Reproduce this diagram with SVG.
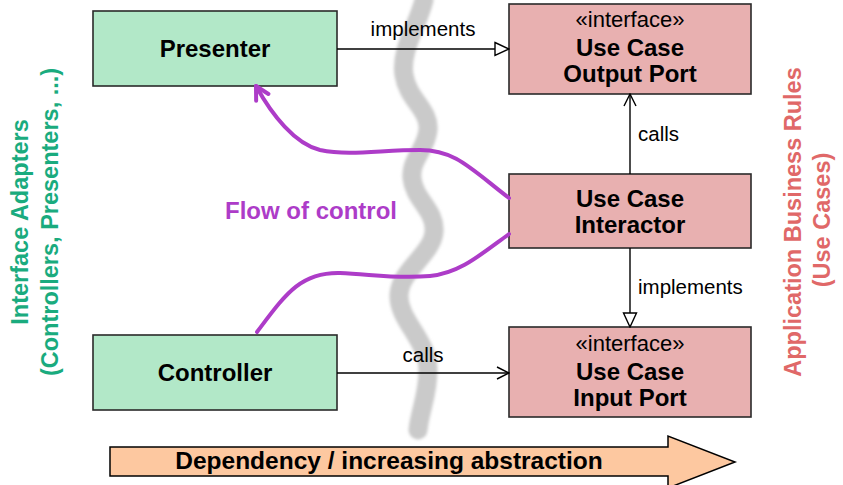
<svg xmlns="http://www.w3.org/2000/svg" width="843" height="485" viewBox="0 0 843 485">
  <style>
    .box { stroke: #2a2a2a; stroke-width: 1.6; }
    .adapter { fill: #b2e8c8; }
    .rule { fill: #e8b0b0; }
    .title { font-family: "Liberation Sans", Arial, sans-serif; font-weight: bold; font-size: 24px; fill: #000; text-anchor: middle; }
    .stereo { font-family: "Liberation Sans", Arial, sans-serif; font-size: 22px; fill: #000; text-anchor: middle; }
    .lbl { font-family: "Liberation Sans", Arial, sans-serif; font-size: 20.5px; fill: #000; }
    .edge { stroke: #000; stroke-width: 1.4; fill: none; }
    .flow { stroke: #ad3cc8; stroke-width: 4; fill: none; stroke-linecap: round; }
    .side { font-family: "Liberation Sans", Arial, sans-serif; font-weight: bold; font-size: 23.5px; text-anchor: middle; }
  </style>
  <defs>
    <marker id="open" viewBox="0 0 14 14" refX="13" refY="7" markerWidth="14" markerHeight="14" markerUnits="userSpaceOnUse" orient="auto">
      <path d="M1,1 L13,7 L1,13" fill="none" stroke="#000" stroke-width="1.4"/>
    </marker>
    <marker id="hollow" viewBox="0 0 16 16" refX="15" refY="8" markerWidth="16" markerHeight="16" markerUnits="userSpaceOnUse" orient="auto">
      <path d="M1,1.5 L15,8 L1,14.5 Z" fill="#fff" stroke="#000" stroke-width="1.4"/>
    </marker>
    <marker id="flowhead" viewBox="0 0 20 20" refX="17" refY="10" markerWidth="20" markerHeight="20" markerUnits="userSpaceOnUse" orient="auto">
      <path d="M4,3 L17,10 L4,17" fill="none" stroke="#ad3cc8" stroke-width="4" stroke-linecap="round" stroke-linejoin="round"/>
    </marker>
    <filter id="soft" x="-50%" y="-5%" width="200%" height="110%">
      <feGaussianBlur stdDeviation="1.6"/>
    </filter>
  </defs>

  <!-- boundary between the two layers -->
  <path id="boundary" d="M424,0 C418,25 400,50 404,75 C408,100 430,110 428,130 C426,150 410,160 412,178 C414,200 436,210 434,232 C432,255 400,270 399,295 C398,320 428,340 428,370 C428,395 420,410 418,430" fill="none" stroke="#cacaca" stroke-width="19" stroke-linecap="round" filter="url(#soft)"/>

  <!-- layer captions -->
  <g id="adapters-caption" fill="#1aab7e">
    <text class="side" transform="translate(28,222) rotate(-90)">Interface Adapters</text>
    <text class="side" transform="translate(58,222) rotate(-90)">(Controllers, Presenters, ...)</text>
  </g>
  <g id="rules-caption" fill="#e06868">
    <text class="side" transform="translate(801,222) rotate(-90)">Application Business Rules</text>
    <text class="side" transform="translate(830,220) rotate(-90)">(Use Cases)</text>
  </g>

  <!-- nodes -->
  <g id="presenter">
    <rect class="box adapter" x="93" y="11" width="244" height="75"/>
    <text class="title" x="215" y="57">Presenter</text>
  </g>
  <g id="controller">
    <rect class="box adapter" x="93" y="335" width="244" height="75"/>
    <text class="title" x="215" y="381">Controller</text>
  </g>
  <g id="output-port">
    <rect class="box rule" x="509" y="4" width="242" height="90"/>
    <text class="stereo" x="630" y="27">«interface»</text>
    <text class="title" x="630" y="56">Use Case</text>
    <text class="title" x="630" y="82">Output Port</text>
  </g>
  <g id="interactor">
    <rect class="box rule" x="509" y="174" width="242" height="74"/>
    <text class="title" x="630" y="207">Use Case</text>
    <text class="title" x="630" y="233">Interactor</text>
  </g>
  <g id="input-port">
    <rect class="box rule" x="509" y="327" width="242" height="90"/>
    <text class="stereo" x="630" y="351">«interface»</text>
    <text class="title" x="630" y="380">Use Case</text>
    <text class="title" x="630" y="406">Input Port</text>
  </g>

  <!-- connectors -->
  <g id="connectors">
    <path class="edge" d="M337,49 H509" marker-end="url(#hollow)"/>
    <text class="lbl" x="423" y="36" text-anchor="middle">implements</text>
    <path class="edge" d="M337,373 H509" marker-end="url(#open)"/>
    <text class="lbl" x="423" y="362" text-anchor="middle">calls</text>
    <path class="edge" d="M630,174 V94" marker-end="url(#open)"/>
    <text class="lbl" x="638" y="141">calls</text>
    <path class="edge" d="M630,248 V327" marker-end="url(#hollow)"/>
    <text class="lbl" x="638" y="294">implements</text>

    <path class="flow" d="M509,198 C470,168 455,150 420,150 C380,150 350,156 320,150 C295,144 272,115 256,86" marker-end="url(#flowhead)"/>
    <path class="flow" d="M257,332 C285,295 300,272 340,273 C370,274 395,279 430,276 C460,273 480,255 509,234"/>
    <text x="311" y="219" font-family="Liberation Sans, Arial, sans-serif" font-weight="bold" font-size="24px" fill="#ad3cc8" text-anchor="middle">Flow of control</text>
  </g>

  <!-- dependency direction -->
  <g id="dependency-arrow">
    <path d="M110,447 H668 V436 L735,462 L668,488 V476 H110 Z" fill="#fdc8a0" stroke="#000" stroke-width="1.5"/>
    <text x="389" y="469" font-family="Liberation Sans, Arial, sans-serif" font-weight="bold" font-size="24.5px" fill="#000" text-anchor="middle">Dependency / increasing abstraction</text>
  </g>
</svg>
